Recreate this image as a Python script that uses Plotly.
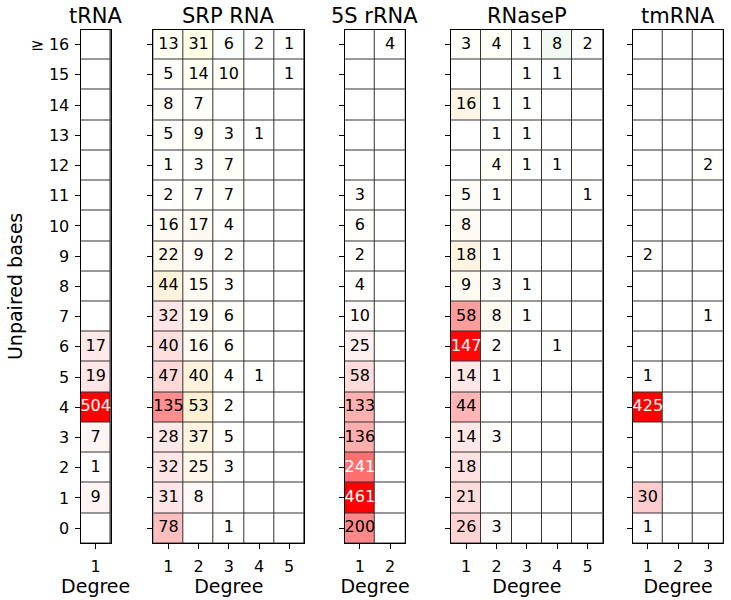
import plotly.graph_objects as go

# ---------------- data ----------------
ROWS = list(range(17))
ROW_LABELS = [str(i) for i in range(16)] + ["≥ 16"]

TRNA_DEG = [1]
TRNA = [[0], [9], [1], [7], [504], [19], [17], [0], [0], [0],
        [0], [0], [0], [0], [0], [0], [0]]

SRP_DEG = [1, 2, 3, 4, 5]
SRP = [
    [78, 0, 1, 0, 0],
    [31, 8, 0, 0, 0],
    [32, 25, 3, 0, 0],
    [28, 37, 5, 0, 0],
    [135, 53, 2, 0, 0],
    [47, 40, 4, 1, 0],
    [40, 16, 6, 0, 0],
    [32, 19, 6, 0, 0],
    [44, 15, 3, 0, 0],
    [22, 9, 2, 0, 0],
    [16, 17, 4, 0, 0],
    [2, 7, 7, 0, 0],
    [1, 3, 7, 0, 0],
    [5, 9, 3, 1, 0],
    [8, 7, 0, 0, 0],
    [5, 14, 10, 0, 1],
    [13, 31, 6, 2, 1],
]

S5_DEG = [1, 2]
S5 = [[200, 0], [461, 0], [241, 0], [136, 0], [133, 0], [58, 0], [25, 0],
      [10, 0], [4, 0], [2, 0], [6, 0], [3, 0], [0, 0], [0, 0], [0, 0],
      [0, 0], [0, 4]]

RNASEP_DEG = [1, 2, 3, 4, 5]
RNASEP = [
    [26, 3, 0, 0, 0],
    [21, 0, 0, 0, 0],
    [18, 0, 0, 0, 0],
    [14, 3, 0, 0, 0],
    [44, 0, 0, 0, 0],
    [14, 1, 0, 0, 0],
    [147, 2, 0, 1, 0],
    [58, 8, 1, 0, 0],
    [9, 3, 1, 0, 0],
    [18, 1, 0, 0, 0],
    [8, 0, 0, 0, 0],
    [5, 1, 0, 0, 1],
    [0, 4, 1, 1, 0],
    [0, 1, 1, 0, 0],
    [16, 1, 1, 0, 0],
    [0, 0, 1, 1, 0],
    [3, 4, 1, 8, 2],
]

TMRNA_DEG = [1, 2, 3]
TMRNA = [[1, 0, 0], [30, 0, 0], [0, 0, 0], [0, 0, 0], [425, 0, 0], [1, 0, 0],
         [0, 0, 0], [0, 0, 1], [0, 0, 0], [2, 0, 0], [0, 0, 0], [0, 0, 0],
         [0, 0, 2], [0, 0, 0], [0, 0, 0], [0, 0, 0], [0, 0, 0]]

PANELS = [
    ("tRNA", TRNA_DEG, TRNA),
    ("SRP RNA", SRP_DEG, SRP),
    ("5S rRNA", S5_DEG, S5),
    ("RNaseP", RNASEP_DEG, RNASEP),
    ("tmRNA", TMRNA_DEG, TMRNA),
]

# ---------------- style / layout ----------------
W, H = 731, 600
X_PIX = [(80.5, 110.8), (153.3, 304.3), (344.7, 405.3), (451.0, 602.7), (632.7, 723.3)]
Y_TOP, Y_BOT = 29.5, 543.3
FONT = "DejaVu Sans"
VMAX_FRAC = 1 / 3
HUES = ["rgb(255,0,0)", "rgb(255,165,0)", "rgb(255,255,0)", "rgb(0,128,0)"]
NB = len(HUES)


def bucket(r, c):
    s = r + 5.5 * c
    if s < 12.75:
        return 0
    if s < 21.25:
        return 1
    if s < 32:
        return 2
    return 3


colorscale = []
for b, col in enumerate(HUES):
    colorscale.append([b / NB, "rgb(255,255,255)"])
    colorscale.append([(b + 1) / NB - 1e-4 if b < NB - 1 else 1.0, col])

fig = go.Figure()
y0d = 1 - Y_BOT / H
y1d = 1 - Y_TOP / H

for i, (name, degs, vals) in enumerate(PANELS):
    total = sum(sum(row) for row in vals)
    z = []
    tx, ty, tt, tc = [], [], [], []
    for r in ROWS:
        zrow = []
        for j, d in enumerate(degs):
            v = vals[r][j]
            t = min(v / total / VMAX_FRAC, 1.0)
            zrow.append(bucket(r, d) + t * 0.9995)
            if v > 0:
                tx.append(d)
                ty.append(r)
                tt.append(str(v))
                tc.append("white" if t > 0.5 else "black")
        z.append(zrow)
    xa = "x" if i == 0 else f"x{i+1}"
    ya = "y" if i == 0 else f"y{i+1}"
    fig.add_trace(go.Heatmap(
        x=degs, y=ROWS, z=z, zmin=0, zmax=NB, colorscale=colorscale,
        showscale=False, xgap=1, ygap=1, xaxis=xa, yaxis=ya, hoverinfo="skip"))
    fig.add_trace(go.Scatter(
        x=tx, y=ty, text=tt, mode="text", xaxis=xa, yaxis=ya,
        textfont=dict(family=FONT, size=16, color=tc), showlegend=False,
        hoverinfo="skip"))

    px0, px1 = X_PIX[i]
    xkey = "xaxis" if i == 0 else f"xaxis{i+1}"
    ykey = "yaxis" if i == 0 else f"yaxis{i+1}"
    fig.layout[xkey] = dict(
        domain=[px0 / W, px1 / W], anchor=ya, range=[0.5, len(degs) + 0.5],
        tickvals=degs, ticktext=[str(d) for d in degs], ticks="outside",
        ticklen=5, tickcolor="black", showline=True, linecolor="black",
        linewidth=1, mirror=True, showgrid=False, zeroline=False,
        ticklabelstandoff=3,
        tickfont=dict(family=FONT, size=16, color="black"),
        title=dict(text="Degree", font=dict(family=FONT, size=19, color="black"),
                   standoff=2),
        fixedrange=True)
    fig.layout[ykey] = dict(
        domain=[y0d, y1d], anchor=xa, range=[-0.5, 16.5],
        tickvals=ROWS, ticktext=ROW_LABELS, ticks="outside", ticklen=5,
        tickcolor="black", showticklabels=(i == 0), showline=True,
        linecolor="black", linewidth=1, mirror=True, showgrid=False,
        ticklabelstandoff=2,
        zeroline=False, tickfont=dict(family=FONT, size=16, color="black"),
        fixedrange=True)
    if i == 0:
        fig.layout[ykey].title = dict(
            text="Unpaired bases", font=dict(family=FONT, size=19, color="black"),
            standoff=2)
    fig.add_annotation(
        x=(px0 + px1) / 2 / W, y=y1d, xref="paper", yref="paper",
        xanchor="center", yanchor="bottom", yshift=0, showarrow=False,
        text=name, font=dict(family=FONT, size=21, color="black"))

fig.update_layout(
    width=W, height=H, margin=dict(l=0, r=0, t=0, b=0),
    paper_bgcolor="white", plot_bgcolor="#333333", showlegend=False,
    font=dict(family=FONT))

fig.write_html("out.html")
